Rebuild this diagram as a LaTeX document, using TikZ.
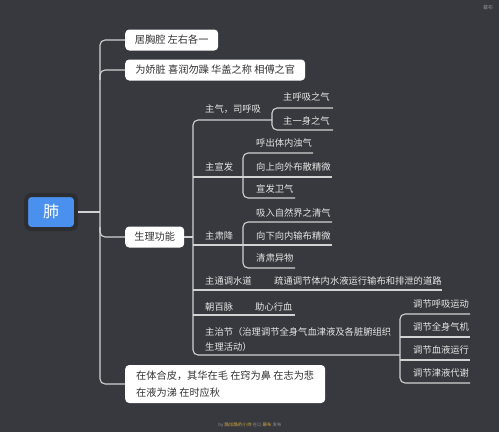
\documentclass[tikz,border=0pt]{standalone}
\usepackage{fontspec}
\setmainfont{Noto Sans CJK SC}
\definecolor{bg}{HTML}{37393E}
\definecolor{ln}{HTML}{D2D2D2}
\definecolor{tx}{HTML}{E6E6E6}
\definecolor{bx}{HTML}{333333}
\definecolor{rootblue}{HTML}{4A90EE}
\definecolor{shade}{HTML}{2C2E32}
\definecolor{ftgray}{HTML}{8A8C90}
\definecolor{ftorange}{HTML}{C9A040}
\begin{document}
\begin{tikzpicture}[x=1pt,y=-1pt,
  conn/.style={draw=ln,line width=1.1pt,rounded corners=5pt},
  box/.style={fill=white,rounded corners=4pt,text=bx,font=\fontsize{10.2}{17}\selectfont,anchor=west,inner xsep=8pt,inner ysep=0pt,minimum height=21pt,align=left},
  item/.style={text=tx,font=\fontsize{9.3}{15}\selectfont,anchor=west,inner sep=0pt,align=left},
]
\fill[bg] (0,0) rectangle (499,432);
\useasboundingbox (0,0) rectangle (499,432);

% root
\node[fill=rootblue,draw=shade,line width=4pt,rounded corners=5pt,minimum width=50pt,minimum height=34pt,text=white,font=\fontsize{16}{16}\selectfont,inner sep=0pt] (root) at (51,212) {肺};

% level-1 boxes
\node[box,minimum width=93pt] (b1) at (125,40) {居胸腔 左右各一};
\node[box,minimum width=180pt] (b2) at (125,70) {为娇脏 喜润勿躁 华盖之称 相傅之官};
\node[box,minimum width=59pt] (b3) at (125,237) {生理功能};
\node[box,minimum width=200pt,minimum height=38pt] (b4) at (125,384) {在体合皮，其华在毛 在窍为鼻 在志为悲\\在液为涕 在时应秋};

% trunk
\coordinate (tb) at (100,384);
\coordinate (t2) at (100,80);
\coordinate (t3) at (100,227);
\draw[conn] (b1.west) -| (tb) -- (b4.west);
\draw[conn] (root.east) -- (root.east -| tb);
\draw[conn] (b2.west) -| (t2);
\draw[conn] (b3.west) -| (t3);

% physiological functions
\coordinate (s1) at (193,120);
\coordinate (s2) at (193,177);
\coordinate (s3) at (193,245);
\coordinate (s4) at (193,290);
\coordinate (s5) at (193,315);
\coordinate (s6) at (193,355);
\coordinate (j1) at (272,120);
\coordinate (j2) at (243,177);
\coordinate (j3) at (243,245);
\coordinate (j6) at (400,355);
\coordinate (e4) at (442,290);
\coordinate (e5) at (295,315);

\draw[conn] (j1) -| (s6) -- (j6);
\draw[conn] (b3.east) -- (b3.east -| s1);
\draw[conn] (s2) -- (j2);
\draw[conn] (s3) -- (j3);
\draw[conn] (s4) -- (e4);
\draw[conn] (s5) -- (e5);

\coordinate (c11) at (333,108);
\coordinate (c12) at (333,130);
\draw[conn] (c11) -| (j1 |- c12) -- (c12);

\coordinate (c21) at (313,153);
\coordinate (c22) at (332,177);
\coordinate (c23) at (295,198);
\draw[conn] (c21) -| (j2 |- c23) -- (c23);
\draw[conn] (j2) -- (c22);

\coordinate (c31) at (332,222);
\coordinate (c32) at (332,245);
\coordinate (c33) at (295,268);
\draw[conn] (c31) -| (j3 |- c33) -- (c33);
\draw[conn] (j3) -- (c32);

\coordinate (c61) at (470,314);
\coordinate (c62) at (470,337);
\coordinate (c63) at (470,360);
\coordinate (c64) at (470,383);
\draw[conn] (c61) -| (j6 |- c64) -- (c64);
\draw[conn] (j6 |- c62) -- (c62);
\draw[conn] (j6 |- c63) -- (c63);

% texts
\node[item] (i1) at (205,109) {主气，司呼吸};
\node[item] (i11) at (283,97) {主呼吸之气};
\node[item] (i12) at (283,121) {主一身之气};
\node[item] (i2) at (205,167) {主宣发};
\node[item] (i21) at (256,143) {呼出体内浊气};
\node[item] (i22) at (256,167) {向上向外布散精微};
\node[item] (i23) at (256,189) {宣发卫气};
\node[item] (i3) at (205,236) {主肃降};
\node[item] (i31) at (256,213) {吸入自然界之清气};
\node[item] (i32) at (256,236) {向下向内输布精微};
\node[item] (i33) at (256,258) {清肃异物};
\node[item] (i4) at (205,281) {主通调水道};
\node[item] (i41) at (274,281) {疏通调节体内水液运行输布和排泄的道路};
\node[item] (i5) at (205,307) {朝百脉};
\node[item] (i51) at (255,307) {助心行血};
\node[item] (i6) at (205,339) {主治节（治理调节全身气血津液及各脏腑组织\\生理活动）};
\node[item] (i61) at (413,304) {调节呼吸运动};
\node[item] (i62) at (413,327) {调节全身气机};
\node[item] (i63) at (413,350) {调节血液运行};
\node[item] (i64) at (413,373) {调节津液代谢};

% footer and logo
\node[font=\fontsize{4.5}{5}\selectfont,inner sep=0pt] (ft) at (250,425) {\textcolor{ftgray}{by} \textcolor{ftorange}{酷炫酷的小帅} \textcolor{ftgray}{在以} \textcolor{ftorange}{幕布} \textcolor{ftgray}{发布}};
\node[font=\fontsize{5}{5}\selectfont,text=ftgray,inner sep=0pt] (logo) at (488,8) {幕布};
\end{tikzpicture}
\end{document}
